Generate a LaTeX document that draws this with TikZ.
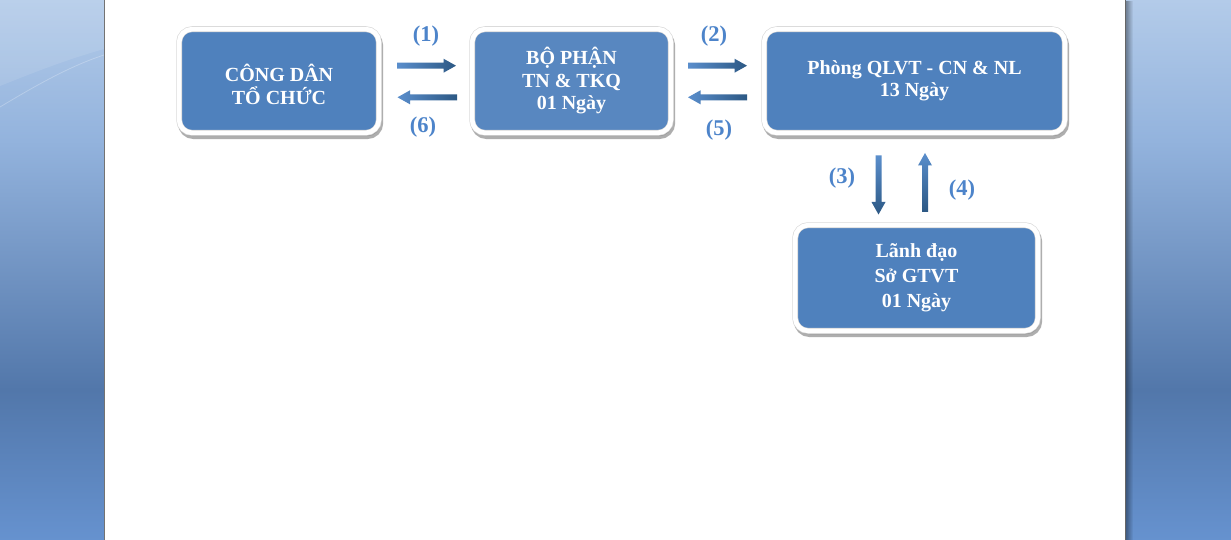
\documentclass[tikz,border=0pt]{standalone}
\usepackage{fontspec}
\setmainfont{Liberation Serif}
\usetikzlibrary{calc,shadows,fadings}
\definecolor{boxblue}{HTML}{4F81BD}
\definecolor{boxblueb}{HTML}{5887C0}
\definecolor{lblblue}{HTML}{4D84CA}
\definecolor{arrlight}{HTML}{5A8ECC}
\definecolor{arrdark}{HTML}{2C5884}
\definecolor{bgtop}{HTML}{B3CBE9}
\definecolor{bgmidA}{HTML}{93B3DD}
\definecolor{bgmid}{HTML}{5277AA}
\definecolor{bgbot}{HTML}{6692CF}
\pgfdeclareverticalshading{bgshade}{100bp}{color(0bp)=(bgbot); color(25bp)=(bgbot); color(38.9bp)=(bgmid); color(62bp)=(bgmidA); color(75bp)=(bgtop); color(100bp)=(bgtop)}
\newcommand\fatarrow[3]{%
  \coordinate (hb) at ($(#2)!12.5pt!(#1)$);
  \shade[#3] ($(#1)!3pt!90:(#2)$) -- ($(hb)!3pt!90:(#2)$) -- ($(hb)!7pt!90:(#2)$) -- (#2)
    -- ($(hb)!7pt!-90:(#2)$) -- ($(hb)!3pt!-90:(#2)$) -- ($(#1)!3pt!-90:(#2)$) -- cycle;
}
\tikzset{
  stepbox/.style={draw=black!16, double=white, double distance=4.6pt, line width=0.6pt,
    fill=boxblue, rounded corners=13pt, text=white, align=center, inner sep=0pt,
    font=\bfseries\fontsize{20}{22.5}\selectfont,
    drop shadow={shadow xshift=1.5pt, shadow yshift=-3.4pt, fill=black!42, draw=black!42, line width=5.6pt, opacity=0.75}},
  numlabel/.style={text=lblblue, font=\bfseries\fontsize{22.5}{24}\selectfont, inner sep=0pt},
  hshade/.style={left color=arrlight, right color=arrdark},
  vshade/.style={top color=arrlight, bottom color=arrdark},
}
\begin{document}
\begin{tikzpicture}[x=1pt,y=-1pt]
\useasboundingbox (0,0) rectangle (1231,540);
% background panels
\shade[shading=bgshade] (0,0) rectangle (1231,540);
\fill[white, opacity=0.1] (0,0) -- (104,0) -- (104,49) .. controls (65,60) and (30,74) .. (0,86) -- cycle;
\draw[white, opacity=0.25, line width=0.8pt] (0,107) .. controls (35,86) and (70,66) .. (104,55);
% page
\fill[white] (105,0) rectangle (1125,540);
\fill[black!55] (103.8,0) rectangle (105,540);
\fill[black!60] (1125,0) rectangle (1126.3,540);
\fill[black, path fading=east, opacity=0.35] (1126.3,0) rectangle (1133,540);
% boxes
\node[stepbox, minimum width=199.7pt, minimum height=103.7pt] (cd) at (279,81) {\rule{0pt}{24pt}CÔNG DÂN\\TỔ CHỨC};
\node[stepbox, fill=boxblueb, minimum width=198.7pt, minimum height=103.7pt] (bp) at (571.5,81) {BỘ PHẬN\\TN \& TKQ\\01 Ngày};
\node[stepbox, minimum width=300.7pt, minimum height=103.7pt] (pq) at (914.5,81) {Phòng QLVT - CN \& NL\\13 Ngày};
\node[stepbox, minimum width=242.7pt, minimum height=105.7pt, font=\bfseries\fontsize{20}{25}\selectfont] (ld) at (916.5,278) {Lãnh đạo\\Sở GTVT\\01 Ngày};
% arrow end points
\coordinate (a1s) at (397,65.7);  \coordinate (a1e) at (456,65.7);
\coordinate (a6s) at (457,97.3);  \coordinate (a6e) at (397.5,97.3);
\coordinate (a2s) at (688,65.7);  \coordinate (a2e) at (747,65.7);
\coordinate (a5s) at (747,97.3);  \coordinate (a5e) at (688,97.3);
\coordinate (a3s) at (878.5,155.5); \coordinate (a3e) at (878.5,214.5);
\coordinate (a4s) at (925,212); \coordinate (a4e) at (925,153);
\fatarrow{a1s}{a1e}{hshade}
\fatarrow{a6s}{a6e}{hshade}
\fatarrow{a2s}{a2e}{hshade}
\fatarrow{a5s}{a5e}{hshade}
\fatarrow{a3s}{a3e}{vshade}
\fatarrow{a4s}{a4e}{vshade}
% labels
\node[numlabel] (l1) at (426,36) {(1)};
\node[numlabel] (l6) at (423,127) {(6)};
\node[numlabel] (l2) at (714,36) {(2)};
\node[numlabel] (l5) at (719,130) {(5)};
\node[numlabel] (l3) at (842,178) {(3)};
\node[numlabel] (l4) at (962,190) {(4)};
\end{tikzpicture}
\end{document}
